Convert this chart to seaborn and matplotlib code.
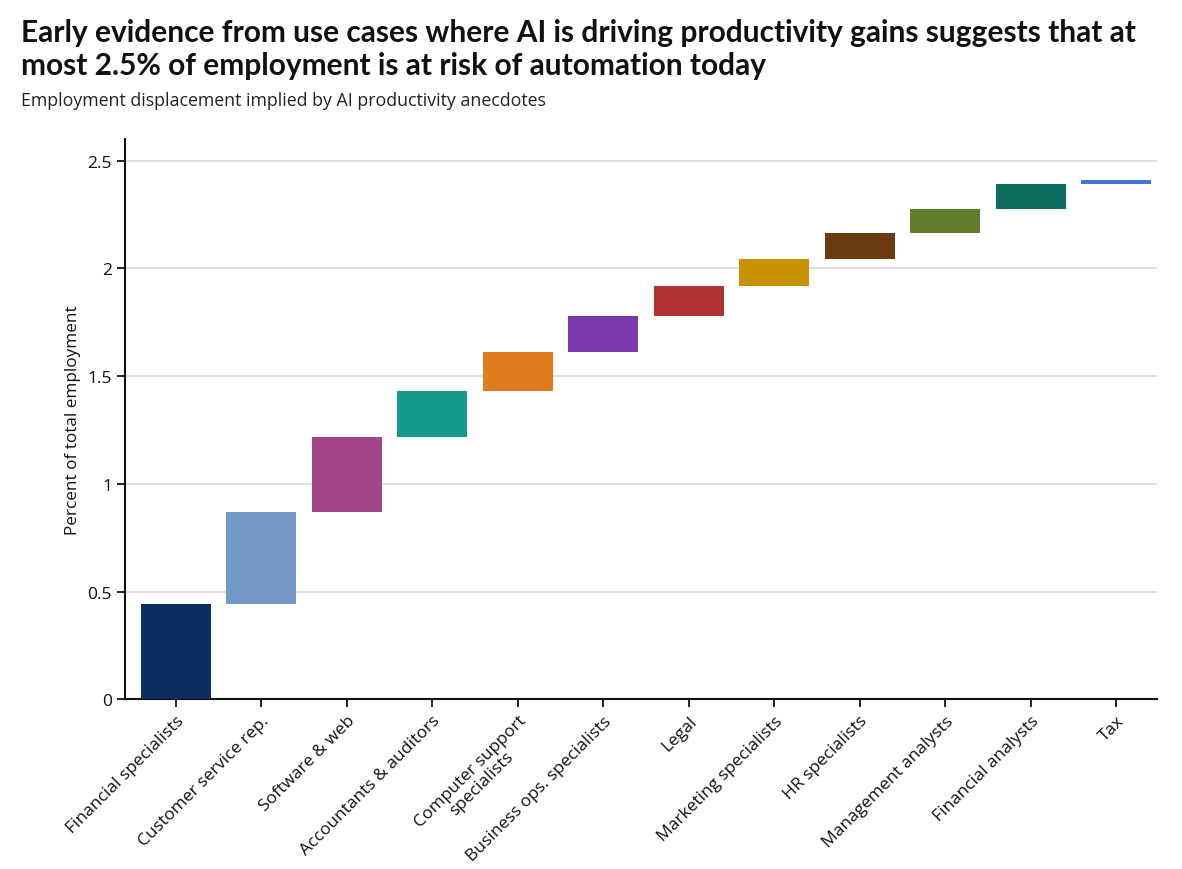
import numpy as np
import matplotlib
matplotlib.use("Agg")
import matplotlib.pyplot as plt
import seaborn as sns

# occupations, in chart order
occupations = ["Financial specialists", "Customer service rep.", "Software & web",
               "Accountants & auditors", "Computer support\nspecialists",
               "Business ops. specialists", "Legal", "Marketing specialists",
               "HR specialists", "Management analysts", "Financial analysts", "Tax"]

# contribution of each occupation (percent of total employment)
share = [0.442, 0.426, 0.350, 0.212, 0.182, 0.165, 0.139, 0.127, 0.120, 0.114, 0.115, 0.016]

bar_colors = ["#0a2c5f", "#7399c6", "#a34589", "#16998a", "#e07a1f", "#7a3aae",
              "#b03333", "#c79300", "#6b3a10", "#627d2a", "#0d6e5f", "#3b78d8"]

y_ticks = [0, 0.5, 1, 1.5, 2, 2.5]
y_ticklabels = ["0", "0.5", "1", "1.5", "2", "2.5"]

# waterfall: each bar starts where the previous ended
bottoms = np.concatenate([[0], np.cumsum(share)[:-1]])

sns.set_style("white")
plt.rcParams["font.family"] = ["Open Sans", "DejaVu Sans"]

fig = plt.figure(figsize=(11.82, 8.7), dpi=100)
ax = fig.add_axes([0.106, 0.195, 0.873, 0.644])

sns.barplot(x=occupations, y=share, bottom=bottoms, width=0.82, color=bar_colors[0],
            saturation=1, errorbar=None, ax=ax, linewidth=0, zorder=3)
for patch, c in zip(ax.patches, bar_colors):
    patch.set_facecolor(c)

ax.set_xlim(-0.59, 11.48)
ax.set_ylim(0, 2.6)
ax.set_yticks(y_ticks)
ax.set_yticklabels(y_ticklabels)
ax.yaxis.grid(True, color="#d9d9d9", linewidth=1.2, zorder=0)
ax.set_axisbelow(True)

for side in ["top", "right"]:
    ax.spines[side].set_visible(False)
for side in ["left", "bottom"]:
    ax.spines[side].set_color("#111111")
    ax.spines[side].set_linewidth(1.5)

ax.tick_params(axis="both", direction="out", length=6, width=1.3, colors="#111111",
               labelsize=12.5, bottom=True, left=True)
ax.set_xticks(range(len(occupations)))
ax.set_xticklabels(occupations, rotation=45, ha="right", rotation_mode="anchor",
                   multialignment="center", linespacing=1.05)

ax.set_ylabel("Percent of total employment", fontsize=12.3, labelpad=5, color="#111111")
ax.set_xlabel("")

fig.text(0.018, 0.978, "Early evidence from use cases where AI is driving productivity gains suggests that at\n"
         "most 2.5% of employment is at risk of automation today",
         fontsize=21.5, fontweight="bold", va="top", ha="left", family=["Lato", "DejaVu Sans"],
         linespacing=1.2, color="#111111")
fig.text(0.018, 0.884, "Employment displacement implied by AI productivity anecdotes",
         fontsize=12.8, va="center", ha="left", color="#222222")

fig.savefig("out.png", dpi=100)
